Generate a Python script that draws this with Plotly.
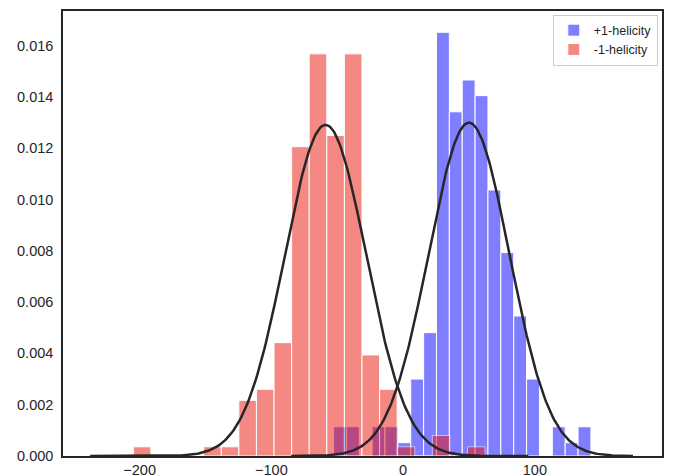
import numpy as np
import plotly.graph_objects as go

# ---- data ----
# +1-helicity histogram (density), 20 equal bins
plus_bin_start = -52.85
plus_bin_width = 9.77
plus_density = [0.00114, 0.00114, 0.0, 0.00114, 0.00114, 0.00052, 0.00300, 0.00481,
                0.01652, 0.01342, 0.01466, 0.01405, 0.01037, 0.00793, 0.00546, 0.00300,
                0.0, 0.00114, 0.00052, 0.00114]

# -1-helicity histogram (density), 20 equal bins
minus_bin_start = -204.8
minus_bin_width = 13.35
minus_density = [0.00036, 0.0, 0.0, 0.0, 0.00036, 0.00036, 0.00217, 0.00260,
                 0.00442, 0.01206, 0.01568, 0.01250, 0.01568, 0.00394, 0.00260, 0.00036,
                 0.0, 0.00080, 0.0, 0.00036]

# normal fits (mean, std) and the extent over which each fit is drawn
plus_fit_mean, plus_fit_std = 50.0, 30.7
plus_fit_range = (-85.0, 174.5)
minus_fit_mean, minus_fit_std = -58.9, 30.9
minus_fit_range = (-237.6, 95.0)

x_ticks = [-200, -100, 0, 100]
y_ticks = [0.000, 0.002, 0.004, 0.006, 0.008, 0.010, 0.012, 0.014, 0.016]
y_tick_labels = ["0.000", "0.002", "0.004", "0.006", "0.008", "0.010", "0.012", "0.014", "0.016"]
labels = ["+1-helicity", "-1-helicity"]


def centers(start, width, n):
    return [start + (i + 0.5) * width for i in range(n)]


def norm_pdf(x, mu, sd):
    return np.exp(-0.5 * ((x - mu) / sd) ** 2) / (sd * np.sqrt(2 * np.pi))


fig = go.Figure()

fig.add_trace(go.Bar(
    x=centers(plus_bin_start, plus_bin_width, len(plus_density)),
    y=plus_density, width=plus_bin_width, name=labels[0],
    marker=dict(color="rgb(0,0,255)", line=dict(color="white", width=1)),
    opacity=0.5,
))
fig.add_trace(go.Bar(
    x=centers(minus_bin_start, minus_bin_width, len(minus_density)),
    y=minus_density, width=minus_bin_width, name=labels[1],
    marker=dict(color="rgb(235,20,10)", line=dict(color="white", width=1)),
    opacity=0.5,
))

for (lo, hi), mu, sd in [(plus_fit_range, plus_fit_mean, plus_fit_std),
                         (minus_fit_range, minus_fit_mean, minus_fit_std)]:
    xs = np.linspace(lo, hi, 300)
    fig.add_trace(go.Scatter(x=xs, y=norm_pdf(xs, mu, sd), mode="lines",
                             line=dict(color="#262626", width=2.5),
                             showlegend=False, hoverinfo="skip"))

font = "Liberation Sans, Arial, sans-serif"
fig.update_layout(
    width=678, height=476,
    margin=dict(l=63, r=16, t=11, b=20),
    paper_bgcolor="white", plot_bgcolor="white",
    barmode="overlay",
    font=dict(family=font, size=14.5, color="#262626"),
    showlegend=True,
    legend=dict(x=0.993, xanchor="right", y=0.992, yanchor="top",
                bgcolor="white", bordercolor="#cccccc", borderwidth=1,
                font=dict(size=12.5, color="#262626"), tracegroupgap=2),
)
fig.update_xaxes(range=[-258.2, 196.5], tickvals=x_ticks, showgrid=False, zeroline=False,
                 showline=True, mirror=True, linecolor="#262626", linewidth=1.5,
                 ticks="", ticklabelstandoff=0, automargin=False)
fig.update_yaxes(range=[0, 0.01735], tickvals=y_ticks, ticktext=y_tick_labels,
                 showgrid=False, zeroline=False,
                 showline=True, mirror=True, linecolor="#262626", linewidth=1.5,
                 ticks="", ticklabelstandoff=5, automargin=False)

fig.write_html("out.html", config={"displayModeBar": False},
               post_script="document.body.style.margin='0';document.body.style.overflow='hidden';")
